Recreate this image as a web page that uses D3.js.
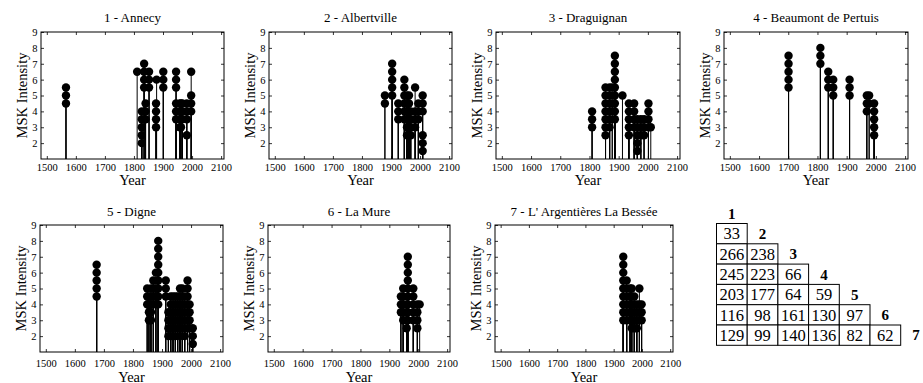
<!DOCTYPE html>
<html>
<head>
<meta charset="utf-8">
<script src="https://cdn.jsdelivr.net/npm/d3@7"></script>
<style>
  html, body { margin: 0; padding: 0; background: #fff; }
  svg { display: block; font-family: "Liberation Serif", "Times New Roman", serif; }
</style>
</head>
<body>
<svg id="fig" width="923" height="383"></svg>
<script>
// ---- Station names and axis ticks ----
const stationNames = [
  "1 - Annecy", "2 - Albertville", "3 - Draguignan", "4 - Beaumont de Pertuis",
  "5 - Digne", "6 - La Mure", "7 - L' Argentières La Bessée"
];
const yearTicks = [1500, 1600, 1700, 1800, 1900, 2000, 2100];
const mskTicks = [2, 3, 4, 5, 6, 7, 8, 9];

// ---- Felt events: year of each event and the MSK intensities reported for it ----
const annecyYears = [1566, 1811, 1827, 1835, 1840, 1852, 1876, 1878, 1901, 1945, 1958, 1962, 1967, 1982, 1997];
const annecyMSK = [
  [4.5, 5, 5.5], [6.5], [2, 2.5, 3, 3.5, 4], [5.5, 6, 6.5, 7], [3.5, 4, 4.5], [5.5, 6, 6.5],
  [3, 3.5, 4, 4.5], [6], [5.5, 6, 6.5], [3.5, 4, 4.5, 5.5, 6, 6.5], [3, 3.5, 4, 4.5],
  [3, 3.5, 4, 4.5], [3.5, 4, 4.5], [2.5, 3.5, 4, 4.5], [4, 4.5, 5, 6.5]
];

const albertvilleYears = [1879, 1904, 1925, 1946, 1955, 1962, 1968, 1983, 1994, 2009];
const albertvilleMSK = [
  [4.5, 5], [5, 5.5, 6, 6.5, 7], [3.5, 4, 4.5], [3.5, 4, 4.5, 5, 5.5, 6], [2.5, 3, 3.5, 4, 4.5, 5],
  [2.5, 3, 3.5, 4, 4.5, 5], [2.5, 3, 3.5, 4], [3, 3.5, 4, 5.5], [3.5, 4, 4.5], [1.5, 2, 2.5, 4, 4.5, 5]
];

const draguignanYears = [1809, 1855, 1869, 1878, 1887, 1913, 1935, 1953, 1964, 1976, 1987, 2002, 2010];
const draguignanMSK = [
  [3, 3.5, 4], [2.5, 3, 3.5, 4, 4.5, 5, 5.5], [3, 3.5, 4, 4.5, 5, 5.5], [4.5, 5.5],
  [3.5, 4, 4.5, 5, 5.5, 6, 6.5, 7, 7.5], [5], [2.5, 3, 3.5, 4, 4.5], [3, 3.5, 4, 4.5],
  [1.5, 2, 2.5, 3, 3.5], [2.5, 3, 3.5], [2.5, 3, 3.5], [3, 3.5, 4, 4.5], [3]
];

const beaumontYears = [1701, 1810, 1837, 1854, 1910, 1969, 1977, 1994];
const beaumontMSK = [
  [5.5, 6, 6.5, 7, 7.5], [7, 7.5, 8], [5.5, 6, 6.5], [5, 5.5, 6], [5, 5.5, 6],
  [4, 4.5, 5], [4.5, 5], [2.5, 3, 3.5, 4, 4.5]
];

const digneYears = [1675, 1849, 1855, 1862, 1870, 1879, 1887, 1913, 1922, 1930, 1938, 1946, 1954, 1962, 1970, 1978, 1988, 1995, 2006];
const digneMSK = [
  [4.5, 5, 5.5, 6, 6.5], [4, 4.5, 5], [3, 3.5, 4, 4.5], [3, 3.5, 4, 4.5, 5], [4, 4.5, 5, 5.5],
  [4, 4.5, 5, 6], [4, 4.5, 5, 5.5, 6, 6.5, 7, 7.5, 8], [4.5, 5, 5.5], [2, 2.5, 3, 3.5],
  [2, 2.5, 3, 3.5, 4, 4.5], [2.5, 3, 3.5, 4, 4.5], [2, 2.5, 3, 3.5, 4, 4.5], [2.5, 3, 3.5, 4, 4.5],
  [2, 2.5, 3, 3.5, 4, 4.5, 5], [2.5, 3, 3.5, 4, 4.5, 5], [2, 2.5, 3, 3.5, 4, 4.5],
  [2.5, 3, 3.5, 4, 4.5, 5, 5.5], [2.5, 3, 3.5, 4], [1.5, 2, 2.5]
];

const laMureYears = [1940, 1948, 1960, 1964, 1983, 1997, 2005];
const laMureMSK = [
  [3.5, 4, 4.5], [3, 3.5, 4, 4.5, 5], [2.5, 3, 3.5, 4], [3, 3.5, 4, 4.5, 5, 5.5, 6, 6.5, 7],
  [3, 3.5, 4, 4.5, 5], [2.5, 3, 3.5, 4], [4]
];

const argentieresYears = [1934, 1946, 1958, 1964, 1973, 1982, 1991, 1999];
const argentieresMSK = [
  [3, 3.5, 4, 4.5, 5, 5.5, 6, 6.5, 7], [3, 3.5, 4, 4.5, 5, 5.5], [3, 3.5, 4, 4.5, 5],
  [2.5, 3, 3.5, 4, 4.5, 5], [2.5, 3, 3.5, 4, 4.5], [2.5, 3, 3.5, 4], [3, 3.5, 4, 5], [3, 3.5, 4]
];

// ---- Number of common events between station pairs (lower triangle) ----
const pairLabels = ["1", "2", "3", "4", "5", "6", "7"];
const pairCounts = [
  [33],
  [266, 238],
  [245, 223, 66],
  [203, 177, 64, 59],
  [116, 98, 161, 130, 97],
  [129, 99, 140, 136, 82, 62]
];

const stationYears = [annecyYears, albertvilleYears, draguignanYears, beaumontYears, digneYears, laMureYears, argentieresYears];
const stationMSK = [annecyMSK, albertvilleMSK, draguignanMSK, beaumontMSK, digneMSK, laMureMSK, argentieresMSK];

// ---- Layout ----
const yearDomain = [1480, 2110];
const mskDomain = [1, 9];
const topRow = { y: 32, h: 127, titleY: 22, tickY: 171, labelY: 185 };
const botRow = { y: 225, h: 127, titleY: 216, tickY: 366.5, labelY: 381.5 };
const panels = [
  { x: 41, w: 183, row: topRow },
  { x: 269, w: 183, row: topRow },
  { x: 496, w: 184, row: topRow },
  { x: 724, w: 184, row: topRow },
  { x: 40, w: 183, row: botRow },
  { x: 268, w: 182, row: botRow },
  { x: 495, w: 178, row: botRow }
];

const svg = d3.select("#fig");
const tickLen = 3;

function drawPanel(p, i) {
  const row = p.row;
  const x = d3.scaleLinear().domain(yearDomain).range([p.x, p.x + p.w]);
  const y = d3.scaleLinear().domain(mskDomain).range([row.y + row.h, row.y]);
  const g = svg.append("g");

  const pts = stationYears[i].flatMap((yr, k) => stationMSK[i][k].map(v => ({ yr, v })));

  // stems from the bottom of the axes up to each reported intensity
  g.append("g").selectAll("line").data(pts).join("line")
    .attr("x1", d => x(d.yr)).attr("x2", d => x(d.yr))
    .attr("y1", y(mskDomain[0])).attr("y2", d => y(d.v))
    .attr("stroke", "#000").attr("stroke-width", 1);

  g.append("g").selectAll("circle").data(pts).join("circle")
    .attr("cx", d => x(d.yr)).attr("cy", d => y(d.v)).attr("r", 4.2)
    .attr("fill", "#000");

  // ticks on all four sides, pointing inward
  const bottom = g.append("g").attr("transform", `translate(0,${row.y + row.h})`)
    .call(d3.axisBottom(x).tickValues(yearTicks).tickSizeInner(-tickLen).tickSizeOuter(0).tickFormat(d3.format("d")));
  bottom.selectAll("text").attr("y", null).attr("dy", null)
    .attr("transform", `translate(0,${row.tickY - row.y - row.h})`);
  g.append("g").attr("transform", `translate(0,${row.y})`)
    .call(d3.axisTop(x).tickValues(yearTicks).tickSizeInner(-tickLen).tickSizeOuter(0).tickFormat(""));
  g.append("g").attr("transform", `translate(${p.x},0)`)
    .call(d3.axisLeft(y).tickValues(mskTicks).tickSizeInner(-tickLen).tickSizeOuter(0).tickPadding(3.5));
  g.append("g").attr("transform", `translate(${p.x + p.w},0)`)
    .call(d3.axisRight(y).tickValues(mskTicks).tickSizeInner(-tickLen).tickSizeOuter(0).tickFormat(""));

  g.selectAll(".domain").remove();
  g.selectAll(".tick line").attr("stroke", "#000").attr("stroke-width", 0.8);
  g.selectAll(".tick text").attr("fill", "#000")
    .style("font-family", "'Liberation Serif', 'Times New Roman', serif").style("font-size", "10.5px");

  g.append("rect").attr("x", p.x).attr("y", row.y).attr("width", p.w).attr("height", row.h)
    .attr("fill", "none").attr("stroke", "#000").attr("stroke-width", 1);

  g.append("text").attr("x", p.x + p.w / 2).attr("y", row.titleY)
    .attr("text-anchor", "middle").style("font-size", "13px").text(stationNames[i]);
  g.append("text").attr("x", p.x + p.w / 2).attr("y", row.labelY)
    .attr("text-anchor", "middle").style("font-size", "14.5px").text("Year");
  g.append("text")
    .attr("transform", `translate(${p.x - 19},${row.y + row.h / 2}) rotate(-90)`)
    .attr("text-anchor", "middle").attr("dy", "0.35em").style("font-size", "14.5px").text("MSK Intensity");
}

panels.forEach(drawPanel);

// ---- Triangular table of shared events ----
const table = { x: 716.5, y: 223.5, cw: 30.7, rh: 20.3 };
const tg = svg.append("g");
const cells = pairCounts.flatMap((r, ri) => r.map((v, ci) => ({ v, ri, ci })));
tg.selectAll("rect").data(cells).join("rect")
  .attr("x", d => table.x + d.ci * table.cw).attr("y", d => table.y + d.ri * table.rh)
  .attr("width", table.cw).attr("height", table.rh)
  .attr("fill", "#fff").attr("stroke", "#000").attr("stroke-width", 1);
tg.selectAll("text.cell").data(cells).join("text").attr("class", "cell")
  .attr("x", d => table.x + (d.ci + 0.5) * table.cw).attr("y", d => table.y + (d.ri + 0.5) * table.rh)
  .attr("dy", "0.35em").attr("text-anchor", "middle").style("font-size", "16.5px")
  .text(d => d.v);
tg.selectAll("text.lab").data(pairLabels).join("text").attr("class", "lab")
  .attr("x", (d, k) => table.x + (k + 0.5) * table.cw).attr("y", (d, k) => table.y + (k - 0.5) * table.rh)
  .attr("dy", "0.35em").attr("text-anchor", "middle")
  .style("font-size", "15px").style("font-weight", "bold").text(d => d);
</script>
</body>
</html>
